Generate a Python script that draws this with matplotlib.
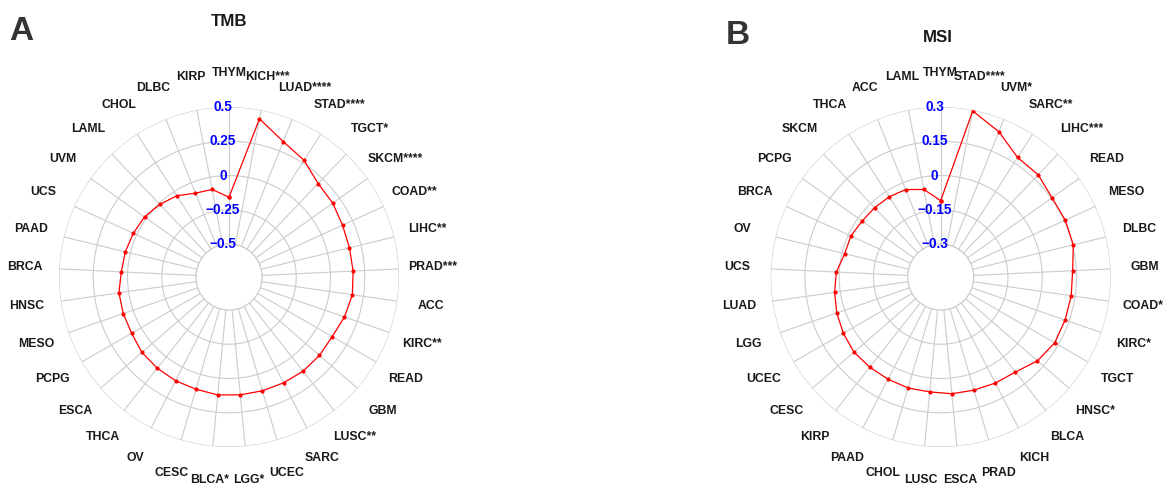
import numpy as np
import matplotlib
matplotlib.use("Agg")
import matplotlib.pyplot as plt
from matplotlib.transforms import offset_copy

plt.rcParams["font.family"] = ["Liberation Sans", "DejaVu Sans"]

# ---- TMB correlations per cancer type (clockwise from top) ----
tmb_labels = ["THYM", "KICH***", "LUAD****", "STAD****", "TGCT*", "SKCM****",
              "COAD**", "LIHC**", "PRAD***", "ACC", "KIRC**", "READ", "GBM",
              "LUSC**", "SARC", "UCEC", "LGG*", "BLCA*", "CESC", "OV", "THCA",
              "ESCA", "PCPG", "MESO", "HNSC", "BRCA", "PAAD", "UCS", "UVM",
              "LAML", "CHOL", "DLBC", "KIRP"]
tmb_values = [-0.158, 0.435, 0.324, 0.272, 0.202, 0.189, 0.170, 0.164, 0.166,
              0.169, 0.151, 0.129, 0.133, 0.134, 0.128, 0.125, 0.123, 0.124,
              0.113, 0.111, 0.106, 0.100, 0.080, 0.076, 0.071, 0.046, 0.038,
              0.027, 0.016, -0.009, -0.036, -0.082, -0.090]
tmb_ticks = [-0.5, -0.25, 0, 0.25, 0.5]
tmb_tick_labels = ["\u22120.5", "\u22120.25", "0", "0.25", "0.5"]

# ---- MSI correlations per cancer type (clockwise from top) ----
msi_labels = ["THYM", "STAD****", "UVM*", "SARC**", "LIHC***", "READ", "MESO",
              "DLBC", "GBM", "COAD*", "KIRC*", "TGCT", "HNSC*", "BLCA", "KICH",
              "PRAD", "ESCA", "LUSC", "CHOL", "PAAD", "KIRP", "CESC", "UCEC",
              "LGG", "LUAD", "UCS", "OV", "BRCA", "PCPG", "SKCM", "THCA", "ACC",
              "LAML"]
msi_values = [-0.110, 0.296, 0.241, 0.178, 0.174, 0.154, 0.155, 0.153, 0.134,
              0.133, 0.132, 0.132, 0.116, 0.085, 0.078, 0.072, 0.069, 0.061,
              0.062, 0.059, 0.058, 0.058, 0.048, 0.037, 0.025, 0.013, -0.012,
              -0.012, -0.022, -0.025, -0.027, -0.032, -0.054]
msi_ticks = [-0.3, -0.15, 0, 0.15, 0.3]
msi_tick_labels = ["\u22120.3", "\u22120.15", "0", "0.15", "0.3"]

W, H = 1166, 492
fig = plt.figure(figsize=(W / 100, H / 100), dpi=100)

R_OUT = 170.0      # outer ring radius, px
R_IN = 33.0        # inner hole radius, px
R_LAB = 204.0      # category label radius, px
GRID = "#cccccc"


def radar(cx, cy, labels, values, ticks, tick_labels):
    rect = [(cx - R_OUT) / W, (H - cy - R_OUT) / H, 2 * R_OUT / W, 2 * R_OUT / H]
    ax = fig.add_axes(rect, projection="polar")
    n = len(labels)
    theta = np.arange(n) * 2 * np.pi / n
    lo, hi = ticks[0], ticks[-1]
    span = hi - lo
    per_px = span / (R_OUT - R_IN)
    ax.set_theta_zero_location("N")
    ax.set_theta_direction(-1)
    ax.set_ylim(lo, hi)
    ax.set_rorigin(lo - R_IN * per_px)
    ax.grid(False)
    ax.set_xticks([])
    ax.set_yticks([])
    for s in ax.spines.values():
        s.set_edgecolor(GRID)
        s.set_linewidth(0.8)
        s.set_visible(False)
    ax.patch.set_visible(False)

    full = np.linspace(0, 2 * np.pi, 500)
    for t in ticks:
        ax.plot(full, np.full_like(full, t), color=GRID, lw=0.8, zorder=1)
    for th in theta:
        ax.plot([th, th], [lo, hi], color=GRID, lw=0.8, zorder=1)

    th_c = np.append(theta, theta[0])
    v_c = np.append(values, values[0])
    ax.plot(th_c, v_c, color="#ff0000", lw=0.9, marker="o", ms=3.0,
            markeredgewidth=0, zorder=3)

    r_lab = hi + (R_LAB - R_OUT) * per_px
    for th, lab in zip(theta, labels):
        ax.text(th, r_lab, lab, ha="center", va="center", fontsize=8.8,
                fontweight="bold", color="#1a1a1a", clip_on=False)

    trans = offset_copy(ax.transData, fig=fig, x=-6, y=0, units="dots")
    for t, tl in zip(ticks, tick_labels):
        ax.text(0, t, tl, transform=trans, ha="center", va="center",
                fontsize=9.8, fontweight="bold", color="#0000ff",
                clip_on=False, zorder=4)
    return ax


radar(229, 277, tmb_labels, tmb_values, tmb_ticks, tmb_tick_labels)
radar(940.7, 277, msi_labels, msi_values, msi_ticks, msi_tick_labels)

fig.text(229 / W, 1 - 21.7 / H, "TMB", ha="center", va="center",
         fontsize=12.2, fontweight="bold", color="#1a1a1a")
fig.text(937.6 / W, 1 - 37.4 / H, "MSI", ha="center", va="center",
         fontsize=12.2, fontweight="bold", color="#1a1a1a")
fig.text(21 / W, 1 - 31.5 / H, "A", ha="center", va="center",
         fontsize=24, fontweight="bold", color="#333333")
fig.text(737.5 / W, 1 - 35.7 / H, "B", ha="center", va="center",
         fontsize=24, fontweight="bold", color="#333333")

fig.savefig("out.png", dpi=100, facecolor="white")
